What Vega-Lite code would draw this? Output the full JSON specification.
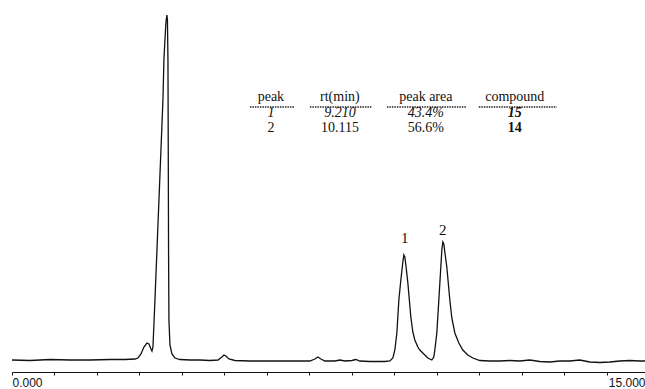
{
  "$schema": "https://vega.github.io/schema/vega-lite/v6.json",
  "autosize": {"type": "none"},
  "width": 633,
  "height": 372,
  "padding": {"left": 12, "right": 0, "top": 0, "bottom": 17},
  "background": "white",
  "config": {"view": {"stroke": null}},
  "datasets": {
    "trace": [
      {"t": 0, "signal": 0}, {"t": 0.424, "signal": -0.5}, {"t": 0.894, "signal": 0.5}, {"t": 1.365, "signal": 0},
      {"t": 1.835, "signal": 0}, {"t": 2.306, "signal": 0.5}, {"t": 2.659, "signal": 0.5}, {"t": 2.894, "signal": 1},
      {"t": 2.965, "signal": 2}, {"t": 3.035, "signal": 6}, {"t": 3.106, "signal": 13}, {"t": 3.176, "signal": 17},
      {"t": 3.224, "signal": 16}, {"t": 3.271, "signal": 11}, {"t": 3.294, "signal": 9}, {"t": 3.318, "signal": 13},
      {"t": 3.365, "signal": 60}, {"t": 3.412, "signal": 110}, {"t": 3.459, "signal": 160}, {"t": 3.506, "signal": 210},
      {"t": 3.553, "signal": 260}, {"t": 3.576, "signal": 300}, {"t": 3.6, "signal": 320}, {"t": 3.624, "signal": 338},
      {"t": 3.647, "signal": 345}, {"t": 3.659, "signal": 340}, {"t": 3.671, "signal": 300}, {"t": 3.678, "signal": 210},
      {"t": 3.685, "signal": 110}, {"t": 3.694, "signal": 40}, {"t": 3.718, "signal": 15}, {"t": 3.765, "signal": 6},
      {"t": 3.835, "signal": 2}, {"t": 3.953, "signal": 0.5}, {"t": 4.188, "signal": 0}, {"t": 4.424, "signal": 0},
      {"t": 4.659, "signal": -0.5}, {"t": 4.847, "signal": 0}, {"t": 4.941, "signal": 3}, {"t": 4.988, "signal": 5},
      {"t": 5.035, "signal": 4}, {"t": 5.106, "signal": 1}, {"t": 5.247, "signal": -0.5}, {"t": 5.6, "signal": -1},
      {"t": 6.071, "signal": -1}, {"t": 6.541, "signal": -1}, {"t": 7.012, "signal": -1}, {"t": 7.129, "signal": 1},
      {"t": 7.2, "signal": 3}, {"t": 7.271, "signal": 1}, {"t": 7.365, "signal": -1}, {"t": 7.6, "signal": -1},
      {"t": 7.718, "signal": 0}, {"t": 7.835, "signal": -1}, {"t": 8.0, "signal": -0.5}, {"t": 8.094, "signal": 0.5},
      {"t": 8.188, "signal": -1}, {"t": 8.424, "signal": -1.5}, {"t": 8.776, "signal": -1.5}, {"t": 8.894, "signal": -1},
      {"t": 8.965, "signal": 2}, {"t": 9.012, "signal": 10}, {"t": 9.059, "signal": 27}, {"t": 9.106, "signal": 60},
      {"t": 9.153, "signal": 80}, {"t": 9.2, "signal": 98}, {"t": 9.224, "signal": 105}, {"t": 9.247, "signal": 103},
      {"t": 9.271, "signal": 95}, {"t": 9.318, "signal": 77}, {"t": 9.388, "signal": 43}, {"t": 9.435, "signal": 28},
      {"t": 9.482, "signal": 20}, {"t": 9.553, "signal": 13}, {"t": 9.6, "signal": 10}, {"t": 9.694, "signal": 6},
      {"t": 9.788, "signal": 2}, {"t": 9.882, "signal": 0}, {"t": 9.929, "signal": 3}, {"t": 9.953, "signal": 10},
      {"t": 10.0, "signal": 27}, {"t": 10.047, "signal": 60}, {"t": 10.094, "signal": 93}, {"t": 10.118, "signal": 110},
      {"t": 10.141, "signal": 118}, {"t": 10.165, "signal": 116}, {"t": 10.188, "signal": 108}, {"t": 10.235, "signal": 93},
      {"t": 10.306, "signal": 60}, {"t": 10.353, "signal": 42}, {"t": 10.424, "signal": 27}, {"t": 10.518, "signal": 17},
      {"t": 10.612, "signal": 10}, {"t": 10.729, "signal": 5}, {"t": 10.847, "signal": 2}, {"t": 11.012, "signal": -0.5},
      {"t": 11.247, "signal": -1}, {"t": 11.482, "signal": -1}, {"t": 11.718, "signal": -0.5}, {"t": 11.953, "signal": -1},
      {"t": 12.188, "signal": 0}, {"t": 12.424, "signal": -1.5}, {"t": 12.659, "signal": -2}, {"t": 12.894, "signal": -1},
      {"t": 13.129, "signal": -1}, {"t": 13.365, "signal": 0}, {"t": 13.6, "signal": -2}, {"t": 13.835, "signal": -2.5},
      {"t": 14.071, "signal": -2}, {"t": 14.306, "signal": -1}, {"t": 14.541, "signal": -0.5}, {"t": 14.776, "signal": -1},
      {"t": 14.9, "signal": -1}
    ],
    "table": [
      {"t": 6.094, "v": 259, "text": "peak", "row": "h", "col": "peak"},
      {"t": 7.718, "v": 259, "text": "rt(min)", "row": "h", "col": "rt"},
      {"t": 9.741, "v": 259, "text": "peak area", "row": "h", "col": "area"},
      {"t": 11.835, "v": 259, "text": "compound", "row": "h", "col": "compound"},
      {"t": 6.094, "v": 243, "text": "1", "row": "1", "col": "peak"},
      {"t": 7.718, "v": 243, "text": "9.210", "row": "1", "col": "rt"},
      {"t": 9.741, "v": 243, "text": "43.4%", "row": "1", "col": "area"},
      {"t": 11.835, "v": 243, "text": "15", "row": "1", "col": "compound"},
      {"t": 6.094, "v": 228, "text": "2", "row": "2", "col": "peak"},
      {"t": 7.718, "v": 228, "text": "10.115", "row": "2", "col": "rt"},
      {"t": 9.741, "v": 228, "text": "56.6%", "row": "2", "col": "area"},
      {"t": 11.835, "v": 228, "text": "14", "row": "2", "col": "compound"}
    ],
    "underline": [
      {"t": 5.6, "t2": 6.659, "v": 253},
      {"t": 7.012, "t2": 8.471, "v": 253},
      {"t": 8.824, "t2": 10.706, "v": 253},
      {"t": 10.988, "t2": 12.824, "v": 253}
    ],
    "peaks": [
      {"t": 9.247, "v": 117, "text": "1"},
      {"t": 10.141, "v": 125, "text": "2"}
    ]
  },
  "layer": [
    {
      "data": {"name": "trace"},
      "mark": {"type": "line", "color": "#111", "strokeWidth": 1.3, "interpolate": "linear"},
      "encoding": {
        "x": {
          "field": "t", "type": "quantitative",
          "scale": {"domain": [0, 14.9], "nice": false, "zero": false},
          "axis": {
            "title": null,
            "values": [0, 1, 2, 3, 4, 5, 6, 7, 8, 9, 10, 11, 12, 13, 14, 14.9],
            "labelExpr": "datum.value == 0 ? '0.000' : (datum.value > 14.5 ? '15.000' : '')",
            "labelFlush": true,
            "labelOverlap": false,
            "labelFont": "Liberation Sans",
            "labelFontSize": 12,
            "labelColor": "#111",
            "labelPadding": 2,
            "tickSize": 3,
            "tickColor": "#111",
            "domainColor": "#111",
            "domainWidth": 1.2,
            "grid": false
          }
        },
        "y": {
          "field": "signal", "type": "quantitative",
          "scale": {"domain": [-12, 360], "nice": false, "zero": false},
          "axis": null
        }
      }
    },
    {
      "data": {"name": "underline"},
      "mark": {"type": "rule", "color": "#222", "strokeWidth": 1.3, "strokeDash": [1.5, 1]},
      "encoding": {
        "x": {"field": "t", "type": "quantitative"},
        "x2": {"field": "t2"},
        "y": {"field": "v", "type": "quantitative"}
      }
    },
    {
      "data": {"name": "table"},
      "transform": [{"filter": "datum.row == 'h' || (datum.row == '2' && datum.col != 'compound')"}],
      "mark": {"type": "text", "font": "Liberation Serif", "fontSize": 14, "color": "#111", "align": "center", "baseline": "alphabetic"},
      "encoding": {
        "x": {"field": "t", "type": "quantitative"},
        "y": {"field": "v", "type": "quantitative"},
        "text": {"field": "text"}
      }
    },
    {
      "data": {"name": "table"},
      "transform": [{"filter": "datum.row == '1' && datum.col != 'compound'"}],
      "mark": {"type": "text", "font": "Liberation Serif", "fontSize": 14, "fontStyle": "italic", "color": "#111", "align": "center", "baseline": "alphabetic"},
      "encoding": {
        "x": {"field": "t", "type": "quantitative"},
        "y": {"field": "v", "type": "quantitative"},
        "text": {"field": "text"}
      }
    },
    {
      "data": {"name": "table"},
      "transform": [{"filter": "datum.row == '1' && datum.col == 'compound'"}],
      "mark": {"type": "text", "font": "Liberation Serif", "fontSize": 14, "fontStyle": "italic", "fontWeight": "bold", "color": "#111", "align": "center", "baseline": "alphabetic"},
      "encoding": {
        "x": {"field": "t", "type": "quantitative"},
        "y": {"field": "v", "type": "quantitative"},
        "text": {"field": "text"}
      }
    },
    {
      "data": {"name": "table"},
      "transform": [{"filter": "datum.row == '2' && datum.col == 'compound'"}],
      "mark": {"type": "text", "font": "Liberation Serif", "fontSize": 14, "fontWeight": "bold", "color": "#111", "align": "center", "baseline": "alphabetic"},
      "encoding": {
        "x": {"field": "t", "type": "quantitative"},
        "y": {"field": "v", "type": "quantitative"},
        "text": {"field": "text"}
      }
    },
    {
      "data": {"name": "peaks"},
      "mark": {"type": "text", "font": "Liberation Serif", "fontSize": 15, "color": "#111", "align": "center", "baseline": "alphabetic"},
      "encoding": {
        "x": {"field": "t", "type": "quantitative"},
        "y": {"field": "v", "type": "quantitative"},
        "text": {"field": "text"}
      }
    }
  ]
}
